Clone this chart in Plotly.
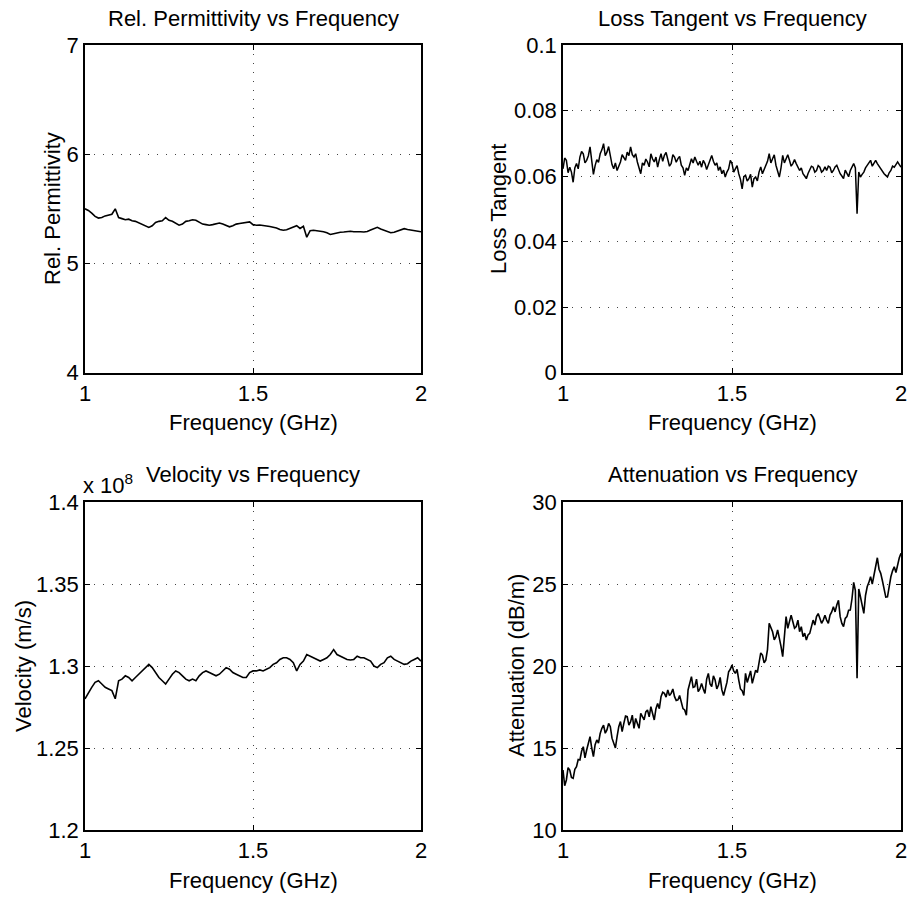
import plotly.graph_objects as go

# ---------------- data ----------------
FREQ_START = 1.0
# coarse sampling for the smoother traces, fine sampling for the noisier ones
freq_ghz = [round(FREQ_START + k * 0.01, 3) for k in range(101)]
freq_fine_ghz = [round(FREQ_START + k * 0.005, 4) for k in range(201)]

rel_permittivity = [
    5.50, 5.485, 5.46, 5.43, 5.415, 5.42, 5.435, 5.44, 5.45, 5.50,
    5.42, 5.41, 5.40, 5.405, 5.39, 5.385, 5.37, 5.36, 5.345, 5.33,
    5.345, 5.375, 5.385, 5.39, 5.42, 5.395, 5.385, 5.37, 5.35, 5.36,
    5.385, 5.39, 5.40, 5.395, 5.375, 5.36, 5.355, 5.35, 5.355, 5.365,
    5.37, 5.36, 5.345, 5.335, 5.345, 5.36, 5.365, 5.37, 5.375, 5.38,
    5.355, 5.35, 5.352, 5.345, 5.343, 5.338, 5.334, 5.325, 5.31, 5.303,
    5.308, 5.318, 5.335, 5.345, 5.32, 5.34, 5.24, 5.30, 5.303, 5.30,
    5.295, 5.29, 5.28, 5.265, 5.272, 5.282, 5.285, 5.287, 5.29, 5.294,
    5.29, 5.293, 5.29, 5.288, 5.292, 5.305, 5.318, 5.33, 5.315, 5.303,
    5.29, 5.281, 5.285, 5.295, 5.303, 5.318, 5.31, 5.305, 5.303, 5.295,
    5.29,
]

loss_tangent = [
    .0622, .0655, .0648, .0610, .0627, .0612, .0581, .0625, .0638, .0622,
    .0658, .0675, .0668, .0640, .0648, .0662, .0689, .0640, .0605, .0632,
    .0650, .0642, .0668, .0680, .0699, .0662, .0673, .0690, .0658, .0635,
    .0622, .0640, .0617, .0628, .0643, .0665, .0658, .0648, .0673, .0662,
    .0689, .0665, .0658, .0668, .0643, .0625, .0607, .0640, .0633, .0652,
    .0643, .0628, .0668, .0652, .0643, .0658, .0627, .0650, .0668, .0645,
    .0663, .0672, .0648, .0630, .0638, .0665, .0658, .0642, .0653, .0660,
    .0633, .0625, .0602, .0625, .0617, .0640, .0653, .0640, .0658, .0645,
    .0633, .0645, .0627, .0648, .0638, .0620, .0633, .0652, .0663, .0645,
    .0633, .0640, .0617, .0628, .0607, .0618, .0597, .0612, .0622, .0648,
    .0638, .0612, .0622, .0632, .0607, .0590, .0561, .0598, .0602, .0585,
    .0592, .0605, .0566, .0592, .0597, .0585, .0612, .0628, .0607, .0618,
    .0633, .0645, .0668, .0640, .0653, .0665, .0633, .0610, .0597, .0625,
    .0663, .0640, .0653, .0665, .0648, .0630, .0638, .0650, .0638, .0628,
    .0617, .0625, .0607, .0600, .0592, .0608, .0617, .0630, .0627, .0612,
    .0617, .0632, .0627, .0612, .0617, .0628, .0617, .0630, .0627, .0610,
    .0617, .0628, .0633, .0618, .0607, .0600, .0592, .0618, .0607, .0598,
    .0617, .0630, .0638, .0625, .0485, .0612, .0597, .0605, .0612, .0625,
    .0633, .0640, .0648, .0630, .0638, .0648, .0638, .0630, .0622, .0612,
    .0607, .0602, .0597, .0610, .0617, .0630, .0627, .0635, .0643, .0635,
    .0627,
]

velocity_1e8 = [
    1.2799, 1.2839, 1.2870, 1.2900, 1.2910, 1.2890, 1.2870, 1.2860, 1.2850, 1.2800,
    1.2910, 1.2920, 1.2940, 1.2930, 1.2910, 1.2930, 1.2950, 1.2970, 1.2990, 1.3010,
    1.2990, 1.2960, 1.2930, 1.2910, 1.2890, 1.2920, 1.2950, 1.2970, 1.2960, 1.2940,
    1.2920, 1.2910, 1.2920, 1.2910, 1.2940, 1.2960, 1.2970, 1.2960, 1.2950, 1.2940,
    1.2950, 1.2970, 1.2990, 1.2980, 1.2960, 1.2950, 1.2940, 1.2930, 1.2930, 1.2960,
    1.2970, 1.2970, 1.2976, 1.2970, 1.2980, 1.2990, 1.3010, 1.3020, 1.3040, 1.3050,
    1.3050, 1.3040, 1.3020, 1.2970, 1.3010, 1.3030, 1.3070, 1.3060, 1.3050, 1.3040,
    1.3030, 1.3040, 1.3050, 1.3070, 1.3100, 1.3070, 1.3060, 1.3050, 1.3040, 1.3037,
    1.3040, 1.3060, 1.3050, 1.3050, 1.3040, 1.3030, 1.3000, 1.2990, 1.3010, 1.3020,
    1.3050, 1.3060, 1.3040, 1.3030, 1.3020, 1.3010, 1.3014, 1.3030, 1.3040, 1.3050,
    1.3030,
]

attenuation_db_m = [
    13.66, 12.70, 13.05, 13.80, 13.66, 13.20, 13.15, 13.70, 13.86, 14.30,
    14.27, 14.80, 15.08, 14.40, 14.88, 15.40, 15.69, 15.00, 14.47, 15.20,
    15.49, 15.30, 15.89, 16.20, 16.40, 15.90, 16.10, 16.50, 16.30, 15.60,
    15.28, 15.00, 15.69, 16.30, 16.61, 16.00, 16.50, 16.95, 16.91, 16.40,
    16.61, 17.00, 16.20, 16.80, 16.50, 16.20, 17.11, 16.95, 16.71, 17.20,
    17.32, 16.90, 17.52, 17.10, 16.71, 17.40, 17.72, 17.40, 18.13, 18.40,
    18.33, 18.10, 18.54, 18.20, 18.33, 18.60, 18.13, 17.90, 17.93, 18.20,
    17.72, 17.40, 17.32, 17.00, 18.54, 19.00, 19.35, 18.70, 18.74, 19.20,
    18.44, 18.60, 18.94, 18.60, 18.33, 19.20, 19.55, 18.90, 18.74, 19.40,
    19.15, 18.60, 18.84, 19.30, 18.54, 18.20, 18.54, 19.00, 19.65, 19.80,
    20.06, 19.70, 19.55, 19.80, 19.14, 18.60, 18.50, 18.20, 19.55, 19.00,
    19.35, 19.70, 18.94, 19.30, 19.75, 19.60, 20.36, 20.80, 20.67, 20.20,
    20.36, 21.00, 22.60, 22.30, 22.09, 21.60, 21.79, 22.20, 21.79, 21.20,
    20.57, 21.80, 23.01, 22.30, 22.80, 23.10, 22.70, 22.30, 22.40, 22.80,
    22.09, 22.40, 21.79, 22.00, 21.58, 21.90, 21.99, 22.50, 22.80, 22.50,
    23.01, 23.20, 22.90, 22.60, 22.80, 23.10, 22.80, 22.60, 23.11, 23.30,
    23.61, 23.30, 23.72, 24.00, 23.01, 22.60, 22.40, 22.90, 23.01, 23.40,
    23.41, 24.10, 25.10, 24.60, 19.25, 24.70, 24.22, 23.70, 23.21, 24.30,
    24.83, 25.10, 25.44, 25.00, 25.55, 26.00, 26.60, 25.90, 25.65, 25.20,
    24.63, 24.20, 24.22, 24.90, 25.44, 25.80, 26.05, 25.70, 26.26, 26.60,
    26.87,
]

x_ticks = [1, 1.5, 2]
x_tick_text = ["1", "1.5", "2"]
eps_ticks = [4, 5, 6, 7]
eps_tick_text = ["4", "5", "6", "7"]
tan_ticks = [0, 0.02, 0.04, 0.06, 0.08, 0.1]
tan_tick_text = ["0", "0.02", "0.04", "0.06", "0.08", "0.1"]
vel_ticks = [1.2, 1.25, 1.3, 1.35, 1.4]
vel_tick_text = ["1.2", "1.25", "1.3", "1.35", "1.4"]
att_ticks = [10, 15, 20, 25, 30]
att_tick_text = ["10", "15", "20", "25", "30"]

titles = ["Rel. Permittivity vs Frequency", "Loss Tangent vs Frequency",
          "Velocity vs Frequency", "Attenuation vs Frequency"]
y_titles = ["Rel. Permittivity", "Loss Tangent", "Velocity (m/s)", "Attenuation (dB/m)"]
x_title = "Frequency (GHz)"

# ---------------- layout geometry ----------------
W, H = 907, 903
FONT = "Liberation Sans, Arial, Helvetica, sans-serif"
FS = 22

def px_x(p):
    return p / W

def px_y(p):
    return 1 - p / H

col_dom = [[px_x(85), px_x(421)], [px_x(563), px_x(901)]]
row_dom = [[px_y(372.6), px_y(45)], [px_y(830), px_y(502)]]

fig = go.Figure()

series = [(freq_ghz, rel_permittivity, 1.6), (freq_fine_ghz, loss_tangent, 1.5),
          (freq_ghz, velocity_1e8, 1.6), (freq_fine_ghz, attenuation_db_m, 1.6)]
for k, (xs, ys, lw) in enumerate(series):
    sfx = "" if k == 0 else str(k + 1)
    fig.add_trace(go.Scatter(x=xs, y=ys, mode="lines",
                             line=dict(color="black", width=lw),
                             xaxis="x" + sfx, yaxis="y" + sfx, showlegend=False))

common = dict(showline=True, linecolor="black", linewidth=1.5, mirror="ticks",
              ticks="inside", ticklen=5, tickcolor="black", tickwidth=1.2, showgrid=True,
              gridcolor="#444444", gridwidth=1, griddash="1px,8px", zeroline=False,
              automargin=False, ticklabeloverflow="allow",
              tickfont=dict(family=FONT, size=FS, color="black"))

yspecs = [([4, 7], eps_ticks, eps_tick_text), ([0, 0.1], tan_ticks, tan_tick_text),
          ([1.2, 1.4], vel_ticks, vel_tick_text), ([10, 30], att_ticks, att_tick_text)]

layout = dict(width=W, height=H, margin=dict(l=0, r=0, t=0, b=0, pad=0, autoexpand=False),
              paper_bgcolor="white", plot_bgcolor="white",
              font=dict(family=FONT, size=FS, color="black"))
for k in range(4):
    r, c = divmod(k, 2)
    sfx = "" if k == 0 else str(k + 1)
    layout["xaxis" + sfx] = dict(domain=col_dom[c], range=[1, 2], tickvals=x_ticks,
                                 ticktext=x_tick_text, anchor="y" + sfx, **common)
    rng, tv, tt = yspecs[k]
    layout["yaxis" + sfx] = dict(domain=row_dom[r], range=rng, tickvals=tv,
                                 ticktext=tt, anchor="x" + sfx, **common)
fig.update_layout(**layout)

ann = []
title_pos = [(253, 18), (732, 18), (253, 474), (732, 474)]
ylab_pos = [(52, 209), (498, 209), (23, 666), (516, 666)]
xlab_pos = [(253, 422), (732, 422), (253, 880), (732, 880)]
for k in range(4):
    ann.append(dict(text=titles[k], x=px_x(title_pos[k][0]), y=px_y(title_pos[k][1]),
                    xref="paper", yref="paper", showarrow=False,
                    xanchor="center", yanchor="middle", font=dict(size=FS)))
    ann.append(dict(text=y_titles[k], x=px_x(ylab_pos[k][0]), y=px_y(ylab_pos[k][1]),
                    xref="paper", yref="paper", showarrow=False, textangle=-90,
                    xanchor="center", yanchor="middle", font=dict(size=FS)))
    ann.append(dict(text=x_title, x=px_x(xlab_pos[k][0]), y=px_y(xlab_pos[k][1]),
                    xref="paper", yref="paper", showarrow=False,
                    xanchor="center", yanchor="middle", font=dict(size=FS)))
ann.append(dict(text="x 10<sup>8</sup>", x=px_x(81), y=px_y(484), xref="paper", yref="paper",
                showarrow=False, xanchor="left", yanchor="middle", font=dict(size=FS)))
fig.update_layout(annotations=ann)

# remove the default 8px page margin so the figure fills the window exactly
fig.write_html("out.html",
               config={"displayModeBar": False},
               post_script="document.body.style.margin='0';document.body.style.overflow='hidden';")
